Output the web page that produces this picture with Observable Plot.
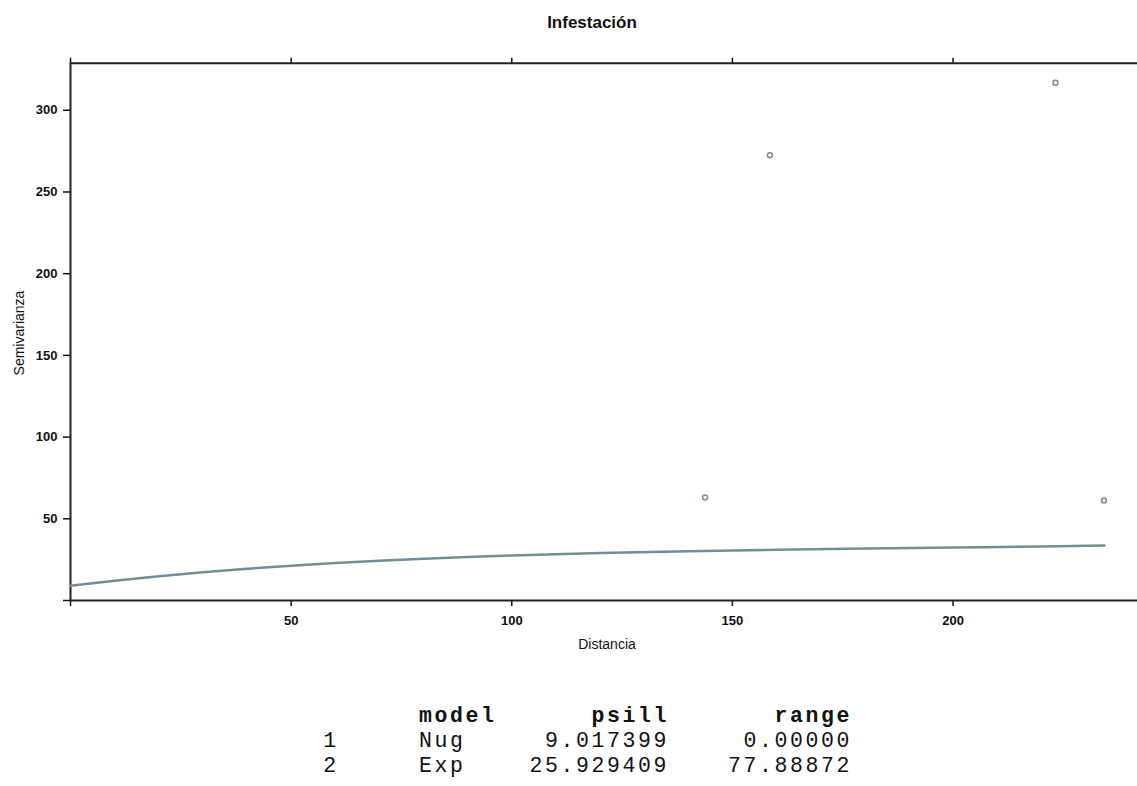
<!DOCTYPE html>
<html>
<head>
<meta charset="utf-8">
<script src="https://cdn.jsdelivr.net/npm/d3@7"></script>
<script src="https://cdn.jsdelivr.net/npm/@observablehq/plot@0.6"></script>
<style>
  html, body { margin: 0; padding: 0; background: #fff; }
  #wrap { position: relative; width: 1137px; height: 786px; overflow: hidden; background: #fff; }
  #chart { position: absolute; left: 0; top: 0; }
  .lbl { position: absolute; font-family: "Liberation Sans", Arial, sans-serif; color: #111; white-space: nowrap; }
  #title { left: 592px; top: 13px; transform: translateX(-50%); font-size: 17px; font-weight: bold; }
  #xlab { left: 607px; top: 636px; transform: translateX(-50%); font-size: 14px; }
  #ylab { left: 19px; top: 333px; transform: translate(-50%, -50%) rotate(-90deg); font-size: 14px; }
  #table { position: absolute; left: 0; top: 680px; }
</style>
</head>
<body>
<div id="wrap">
  <div id="chart"></div>
  <div class="lbl" id="title">Infestación</div>
  <div class="lbl" id="xlab">Distancia</div>
  <div class="lbl" id="ylab">Semivarianza</div>
  <div id="table"></div>
</div>
<script>
// ---- data ----
const distancias   = [143.8, 158.5, 223.2, 234.2];
const semivarianza = [63.0, 272.5, 316.8, 61.2];

const modeloDistancia = [0, 10, 20, 30, 40, 50, 60, 70, 80, 90, 100, 120, 140, 160, 180, 200, 220, 234.3];
const modeloGamma     = [9.0, 12.1, 14.9, 17.3, 19.4, 21.3, 22.9, 24.3, 25.5, 26.6, 27.5, 29.0, 30.2, 31.1, 31.8, 32.4, 33.0, 33.6];

const xTicks = [0, 50, 100, 150, 200];
const yTicks = [0, 50, 100, 150, 200, 250, 300];
const xDomain = [0, 241.8];
const yDomain = [0, 328.8];

const tablaHeader = ["model", "psill", "range"];
const tablaIndex  = ["1", "2"];
const tablaModel  = ["Nug", "Exp"];
const tablaPsill  = ["9.017399", "25.929409"];
const tablaRange  = ["0.00000", "77.88872"];

// ---- build ----
const puntos = distancias.map((d, i) => ({dist: d, gamma: semivarianza[i]}));
const modelo = modeloDistancia.map((d, i) => ({dist: d, gamma: modeloGamma[i]}));
const colorLinea = "#6f8e97";
const tickFont = '"Liberation Sans", Arial, sans-serif';

const chart = Plot.plot({
  width: 1137,
  height: 660,
  marginLeft: 70,
  marginRight: 0,
  marginTop: 62.7,
  marginBottom: 60,
  x: {domain: xDomain},
  y: {domain: yDomain},
  style: {background: "white", fontFamily: tickFont, fontSize: "13px", fontWeight: "bold", color: "#111"},
  marks: [
    Plot.axisX({ticks: xTicks, tickSize: 6, tickPadding: 9, tickFormat: d => d === 0 ? "" : d, label: null, strokeWidth: 1.5}),
    Plot.axisX({anchor: "top", ticks: xTicks, tickSize: 6, tickFormat: () => "", label: null, strokeWidth: 1.5}),
    Plot.axisY({ticks: yTicks, tickSize: 7, tickPadding: 6, tickFormat: d => d === 0 ? "" : d, label: null, strokeWidth: 1.5}),
    Plot.ruleY([yDomain[0], yDomain[1]], {stroke: "#222", strokeWidth: 2}),
    Plot.ruleX([xDomain[0]], {stroke: "#222", strokeWidth: 2}),
    Plot.line(modelo, {x: "dist", y: "gamma", stroke: colorLinea, strokeWidth: 2.5, curve: "monotone-x"}),
    Plot.dot(puntos, {x: "dist", y: "gamma", r: 2.5, stroke: colorLinea, strokeWidth: 1.5, fill: "white"})
  ]
});
document.getElementById("chart").append(chart);

// ---- table below the chart ----
const svgT = d3.select("#table").append("svg").attr("width", 1137).attr("height", 106)
  .style("font-family", '"Courier New", "Liberation Mono", monospace')
  .style("font-size", "21.5px")
  .style("letter-spacing", "2.6px")
  .style("fill", "#111");
const base = [42, 67, 92];
const colX = {idx: 331, model: 419, psill: 669, range: 852};
svgT.append("text").attr("x", colX.model).attr("y", base[0]).attr("font-weight", "bold").text(tablaHeader[0]);
svgT.append("text").attr("x", colX.psill).attr("y", base[0]).attr("font-weight", "bold").attr("text-anchor", "end").text(tablaHeader[1]);
svgT.append("text").attr("x", colX.range).attr("y", base[0]).attr("font-weight", "bold").attr("text-anchor", "end").text(tablaHeader[2]);
tablaIndex.forEach((ix, i) => {
  const y = base[i + 1];
  svgT.append("text").attr("x", colX.idx).attr("y", y).attr("text-anchor", "middle").text(ix);
  svgT.append("text").attr("x", colX.model).attr("y", y).text(tablaModel[i]);
  svgT.append("text").attr("x", colX.psill).attr("y", y).attr("text-anchor", "end").text(tablaPsill[i]);
  svgT.append("text").attr("x", colX.range).attr("y", y).attr("text-anchor", "end").text(tablaRange[i]);
});
</script>
</body>
</html>
